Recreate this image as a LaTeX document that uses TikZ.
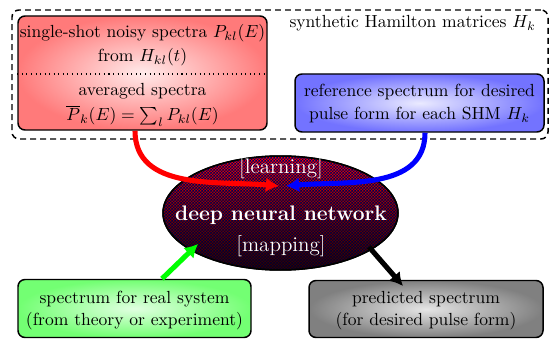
\documentclass[tikz,border=0pt]{standalone}
\usetikzlibrary{shapes.geometric,arrows.meta,patterns,fadings}
\pgfdeclarepatternformonly{finecheck}{\pgfqpoint{0pt}{0pt}}{\pgfqpoint{1.7pt}{1.7pt}}{\pgfqpoint{1.7pt}{1.7pt}}{%
  \pgfpathrectangle{\pgfqpoint{0pt}{0pt}}{\pgfqpoint{0.85pt}{0.85pt}}%
  \pgfpathrectangle{\pgfqpoint{0.85pt}{0.85pt}}{\pgfqpoint{0.85pt}{0.85pt}}%
  \pgfusepath{fill}}
\tikzfading[name=darkdown, top color=transparent!100, bottom color=transparent!40]
\tikzset{
  box/.style={rectangle, draw=black, line width=0.85pt, rounded corners=4pt, inner sep=0pt},
  txt/.style={anchor=base, inner sep=0pt, font=\normalsize},
  wtxt/.style={anchor=base, inner sep=0pt, text=white, font=\large},
  flow/.style={line width=2.9pt, -{Latex[length=7.5pt,width=8.5pt]}},
}
\begin{document}
\begin{tikzpicture}[x=0.57pt,y=-0.57pt]
\useasboundingbox (0,0) rectangle (551,339);
% dashed group
\node (group) [rectangle, draw=black, line width=0.85pt, dash pattern=on 3.4pt off 2.3pt, rounded corners=4pt,
  minimum width=536*0.57pt, minimum height=129*0.57pt, inner sep=0pt] at (280,74.5) {};
\node (title) [anchor=base east, inner sep=0pt] at (536,28) {synthetic Hamilton matrices $H_k$};
% red box
\node (red) [box, shading=radial, inner color=red!8, outer color=red!52,
  minimum width=249*0.57pt, minimum height=114*0.57pt] at (142.5,73) {};
\draw[dotted, line width=0.6pt] (red.west |- 0,74) -- (red.east |- 0,74);
\node (r1) [txt] at (142.5,38) {single-shot noisy spectra $P_{kl}(E)$};
\node (r2) [txt] at (142.5,62) {from $H_{kl}(t)$};
\node (r3) [txt] at (142.5,96) {averaged spectra};
\node (r4) [txt] at (142.5,121) {$\overline{P}_k(E)=\sum_l P_{kl}(E)$};
% blue box
\node (blue) [box, shading=radial, inner color=blue!8, outer color=blue!55,
  minimum width=249*0.57pt, minimum height=58*0.57pt] at (419.5,103) {};
\node (b1) [txt] at (419.5,97) {reference spectrum for desired};
\node (b2) [txt] at (419.5,120) {pulse form for each SHM $H_k$};
% ellipse
\node (dnn) [ellipse, draw=black, line width=0.85pt, inner sep=0pt, top color=red, bottom color=red!45!black,
  minimum width=235*0.57pt, minimum height=114*0.57pt] at (280.5,213) {};
\fill[pattern=finecheck, pattern color=blue!40!black] (dnn.center) ellipse [x radius=117, y radius=56.5];
\fill[black, path fading=darkdown] (dnn.center) ellipse [x radius=117, y radius=56.5];
\draw[line width=0.85pt] (dnn.center) ellipse [x radius=117.5, y radius=57];
\node (l1) [wtxt] at (281,173) {[learning]};
\node (l2) [wtxt, font=\large\bfseries] at (281,220) {deep neural network};
\node (l3) [wtxt] at (281,251) {[mapping]};
\coordinate (redtip) at (279,186);
\coordinate (bluetip) at (286,186);
% bottom boxes
\node (green) [box, shading=radial, inner color=green!12, outer color=green!55,
  minimum width=233*0.57pt, minimum height=58*0.57pt] at (134.5,308.5) {};
\node (g1) [txt] at (134.5,303) {spectrum for real system};
\node (g2) [txt] at (134.5,325) {(from theory or experiment)};
\node (gray) [box, shading=radial, inner color=gray!20, outer color=gray!100,
  minimum width=234*0.57pt, minimum height=57*0.57pt] at (426,309) {};
\node (p1) [txt] at (426,303) {predicted spectrum};
\node (p2) [txt] at (426,325) {(for desired pulse form)};
\coordinate (greentip) at (198,244);
\coordinate (blackstart) at (369,247);
\coordinate (blacktip) at (403,286);
% connectors
\draw[flow, red] ([xshift=-7.5*0.57pt]red.south) to[out=-90, in=175] (redtip);
\draw[flow, blue] ([xshift=5.5*0.57pt]blue.south) to[out=-90, in=5] (bluetip);
\draw[flow, green] ([xshift=27.5*0.57pt]green.north) -- (greentip);
\draw[flow, black] (blackstart) -- (blacktip);
\end{tikzpicture}
\end{document}
